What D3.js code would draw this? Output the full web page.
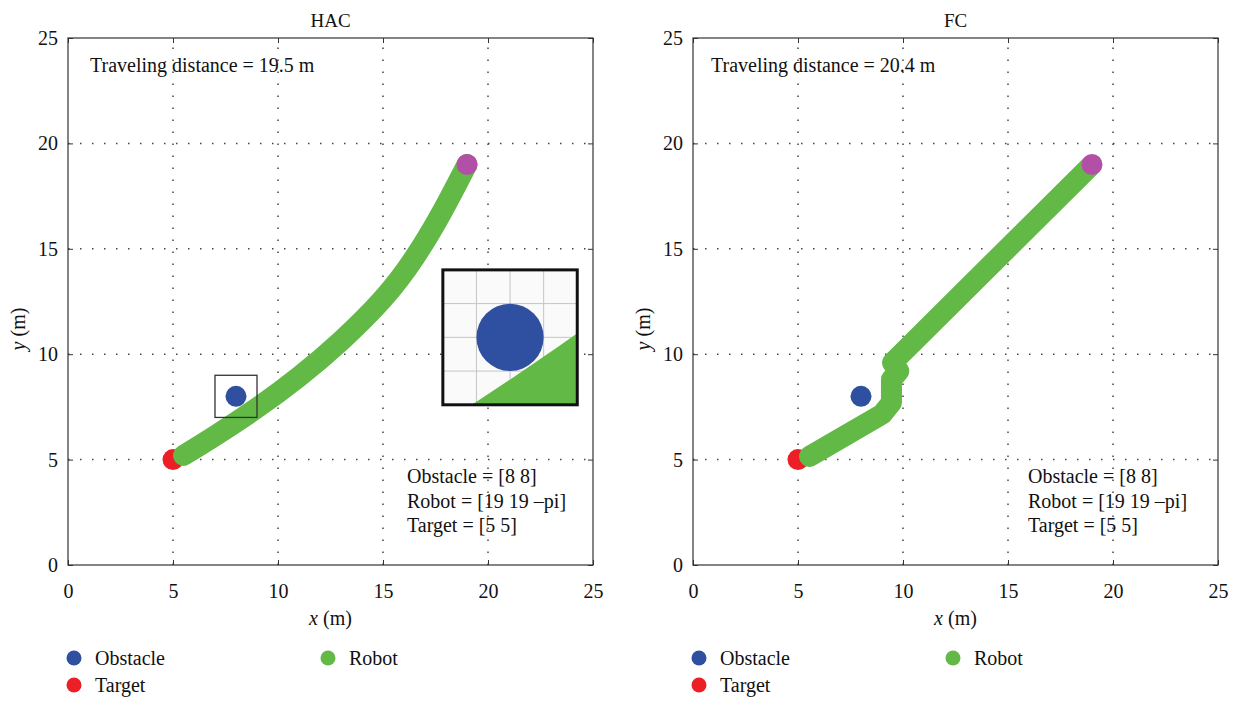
<!DOCTYPE html>
<html>
<head>
<meta charset="utf-8">
<script src="https://cdn.jsdelivr.net/npm/d3@7"></script>
<style>
  body { margin: 0; background: #fff; }
</style>
</head>
<body>
<div id="chart"></div>
<script>
// data
var panels = ["HAC", "FC"];
var distances = ["19.5", "20.4"];
var xTicks = [0, 5, 10, 15, 20, 25];
var yTicks = [0, 5, 10, 15, 20, 25];

var hacPathX = [5.5, 7, 9, 11, 13, 15, 16.5, 17.8, 19];
var hacPathY = [5.2, 6.13, 7.45, 8.93, 10.63, 12.63, 14.58, 16.73, 19.0];
var fcPathX = [5.55, 9.0, 9.45, 9.45, 9.8, 9.5, 18.9];
var fcPathY = [5.15, 7.15, 7.7, 8.8, 9.2, 9.6, 18.9];

var obstacle = [8, 8];
var robot = [19, 19];
var target = [5, 5];
var bodyRadius = 0.5;   // m
var pathWidth = 1.0;    // m
var zoomBox = [7, 9];   // inset region, both axes

var legendLabels = ["Obstacle", "Target", "Robot"];
var infoLines = ["Obstacle = [8 8]", "Robot = [19 19 \u2013pi]", "Target = [5 5]"];

var colors = {Obstacle: "#2f4fa0", Target: "#ec1f27", Robot: "#63b946", start: "#b24fa6"};
var serif = "'Liberation Serif', 'Times New Roman', serif";

var svg = d3.select("#chart")
  .append("svg")
    .attr("width", 1236)
    .attr("height", 701)
    .style("font-family", serif);

panels.forEach(function(p, i) {
    var px = i == 0 ? hacPathX : fcPathX;
    var py = i == 0 ? hacPathY : fcPathY;
    drawPanel(i * 625, p, distances[i], px, py, i == 0);
});

function drawPanel(ox, title, dist, px, py, withInset) {
    var x = d3.scaleLinear().domain([0, 25]).range([ox + 68, ox + 593]);
    var y = d3.scaleLinear().domain([0, 25]).range([565, 38]);
    var g = svg.append("g");
    var pts = px.map(function(v, k) { return [v, py[k]]; });
    var tx = ox == 0 ? 0 : ox - 4;   // text blocks sit a bit left on the right panel
    var curve = withInset ? d3.curveNatural : d3.curveLinear;

    // dotted grid
    g.selectAll(".vg").data(xTicks.slice(1, -1)).enter().append("line")
        .attr("x1", function(d) { return x(d); }).attr("x2", function(d) { return x(d); })
        .attr("y1", y(0)).attr("y2", y(25))
        .attr("stroke", "#444").attr("stroke-width", 1.5).attr("stroke-dasharray", "1.5,10.5");
    g.selectAll(".hg").data(yTicks.slice(1, -1)).enter().append("line")
        .attr("y1", function(d) { return y(d); }).attr("y2", function(d) { return y(d); })
        .attr("x1", x(0)).attr("x2", x(25))
        .attr("stroke", "#444").attr("stroke-width", 1.5).attr("stroke-dasharray", "1.5,10.5");

    // axes with inward ticks
    var ax = [
        {a: d3.axisBottom(x).tickPadding(19), t: "translate(0," + y(0) + ")", v: xTicks},
        {a: d3.axisLeft(y).tickPadding(10), t: "translate(" + x(0) + ",0)", v: yTicks},
        {a: d3.axisTop(x).tickFormat(""), t: "translate(0," + y(25) + ")", v: xTicks},
        {a: d3.axisRight(y).tickFormat(""), t: "translate(" + x(25) + ",0)", v: yTicks}
    ];
    ax.forEach(function(o) {
        var sel = g.append("g")
            .attr("transform", o.t)
            .call(o.a.tickValues(o.v).tickSize(-5))
            .attr("font-family", serif)
            .attr("font-size", 20);
        sel.select(".domain").remove();
        sel.selectAll("line").attr("stroke", "#333");
        sel.selectAll("text").attr("fill", "#111");
    });
    g.append("rect")
        .attr("x", x(0)).attr("y", y(25))
        .attr("width", x(25) - x(0)).attr("height", y(0) - y(25))
        .attr("fill", "none").attr("stroke", "#333").attr("stroke-width", 1.2);

    var line = d3.line()
        .x(function(d) { return x(d[0]); })
        .y(function(d) { return y(d[1]); })
        .curve(curve);

    var r = x(bodyRadius) - x(0);

    // target under the path
    g.append("circle").attr("cx", x(target[0])).attr("cy", y(target[1])).attr("r", r)
        .attr("fill", colors.Target);
    g.append("path").attr("d", line(pts))
        .attr("fill", "none").attr("stroke", colors.Robot)
        .attr("stroke-width", x(pathWidth) - x(0))
        .attr("stroke-linecap", "round").attr("stroke-linejoin", "round");
    g.append("circle").attr("cx", x(robot[0])).attr("cy", y(robot[1])).attr("r", r)
        .attr("fill", colors.start);
    g.append("circle").attr("cx", x(obstacle[0])).attr("cy", y(obstacle[1])).attr("r", r)
        .attr("fill", colors.Obstacle);

    if (withInset) {
        // small zoom box
        g.append("rect")
            .attr("x", x(zoomBox[0])).attr("y", y(zoomBox[1]))
            .attr("width", x(zoomBox[1]) - x(zoomBox[0]))
            .attr("height", y(zoomBox[0]) - y(zoomBox[1]))
            .attr("fill", "none").attr("stroke", "#333").attr("stroke-width", 1.3);

        var ix = d3.scaleLinear().domain(zoomBox).range([x(17.85), x(24.25)]);
        var iy = d3.scaleLinear().domain(zoomBox).range([y(7.6), y(14.0)]);
        svg.append("clipPath").attr("id", "insetClip")
          .append("rect")
            .attr("x", ix(zoomBox[0])).attr("y", iy(zoomBox[1]))
            .attr("width", ix(zoomBox[1]) - ix(zoomBox[0]))
            .attr("height", iy(zoomBox[0]) - iy(zoomBox[1]));
        var ig = g.append("g").attr("clip-path", "url(#insetClip)");
        ig.append("rect")
            .attr("x", ix(zoomBox[0])).attr("y", iy(zoomBox[1]))
            .attr("width", ix(zoomBox[1]) - ix(zoomBox[0]))
            .attr("height", iy(zoomBox[0]) - iy(zoomBox[1]))
            .attr("fill", "#fafafa");
        var igrid = d3.range(zoomBox[0] + 0.5, zoomBox[1], 0.5);
        ig.selectAll(".ivg").data(igrid).enter().append("line")
            .attr("x1", function(d) { return ix(d); }).attr("x2", function(d) { return ix(d); })
            .attr("y1", iy(zoomBox[0])).attr("y2", iy(zoomBox[1]))
            .attr("stroke", "#c4c4c4").attr("stroke-width", 1);
        ig.selectAll(".ihg").data(igrid).enter().append("line")
            .attr("y1", function(d) { return iy(d); }).attr("y2", function(d) { return iy(d); })
            .attr("x1", ix(zoomBox[0])).attr("x2", ix(zoomBox[1]))
            .attr("stroke", "#c4c4c4").attr("stroke-width", 1);
        var iline = d3.line()
            .x(function(d) { return ix(d[0]); })
            .y(function(d) { return iy(d[1]); })
            .curve(curve);
        ig.append("path").attr("d", iline(pts))
            .attr("fill", "none").attr("stroke", colors.Robot)
            .attr("stroke-width", ix(pathWidth) - ix(0))
            .attr("stroke-linecap", "round").attr("stroke-linejoin", "round");
        ig.append("circle").attr("cx", ix(obstacle[0])).attr("cy", iy(obstacle[1]))
            .attr("r", ix(bodyRadius) - ix(0)).attr("fill", colors.Obstacle);
        g.append("rect")
            .attr("x", ix(zoomBox[0])).attr("y", iy(zoomBox[1]))
            .attr("width", ix(zoomBox[1]) - ix(zoomBox[0]))
            .attr("height", iy(zoomBox[0]) - iy(zoomBox[1]))
            .attr("fill", "none").attr("stroke", "#111").attr("stroke-width", 3);
    }

    // texts
    g.append("text").attr("x", x(12.5)).attr("y", 27)
        .attr("text-anchor", "middle").style("font-size", "19px").attr("fill", "#111")
        .text(title);
    g.append("text").attr("x", tx + 90).attr("y", 72)
        .style("font-size", "20px").attr("fill", "#111")
        .text("Traveling distance = " + dist + " m");
    g.selectAll(".info").data(infoLines).enter().append("text")
        .attr("x", tx + 407).attr("y", function(d, k) { return 483 + k * 24.5; })
        .style("font-size", "20px").attr("fill", "#111")
        .text(function(d) { return d; });

    var xl = g.append("text").attr("x", x(12.5)).attr("y", 625)
        .attr("text-anchor", "middle").style("font-size", "20px").attr("fill", "#111");
    xl.append("tspan").style("font-style", "italic").text("x");
    xl.append("tspan").text(" (m)");
    var yl = g.append("text")
        .attr("transform", "translate(" + (ox + 25) + ",329)rotate(-90)")
        .attr("text-anchor", "middle").style("font-size", "20px").attr("fill", "#111");
    yl.append("tspan").style("font-style", "italic").text("y");
    yl.append("tspan").text(" (m)");

    // legend
    var lpos = [[ox + 74, 658], [ox + 74, 685], [ox + 328, 658]];
    legendLabels.forEach(function(lab, k) {
        g.append("circle").attr("cx", lpos[k][0]).attr("cy", lpos[k][1]).attr("r", 7.5)
            .attr("fill", colors[lab]);
        g.append("text").attr("x", lpos[k][0] + 21).attr("y", lpos[k][1] + 7)
            .style("font-size", "20px").attr("fill", "#111").text(lab);
    });
}
</script>
</body>
</html>
